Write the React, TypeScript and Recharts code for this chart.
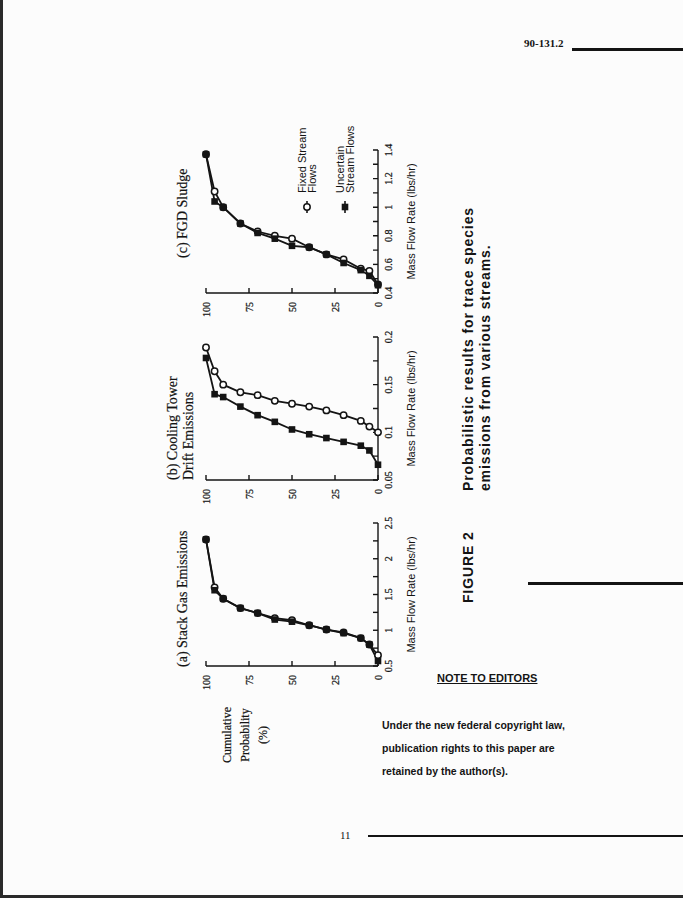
import React from 'react';
import { LineChart, Line, XAxis, YAxis, Legend } from 'recharts';

// ---------- data ----------
const probLevels = [100, 95, 90, 80, 70, 60, 50, 40, 30, 20, 10, 5, 0];

const stackFixed = [2.27, 1.6, 1.44, 1.31, 1.24, 1.17, 1.14, 1.07, 1.01, 0.97, 0.89, 0.8, 0.65];
const stackUncertain = [2.27, 1.56, 1.44, 1.31, 1.24, 1.15, 1.12, 1.07, 1.01, 0.96, 0.89, 0.8, 0.57];

const coolingFixed = [0.189, 0.164, 0.15, 0.142, 0.139, 0.133, 0.13, 0.127, 0.123, 0.118, 0.112, 0.106, 0.1];
const coolingUncertain = [0.178, 0.14, 0.137, 0.127, 0.118, 0.111, 0.103, 0.098, 0.094, 0.09, 0.086, 0.081, 0.066];

const sludgeFixed = [1.37, 1.11, 1.0, 0.886, 0.83, 0.8, 0.78, 0.72, 0.67, 0.635, 0.57, 0.555, 0.46];
const sludgeUncertain = [1.37, 1.04, 1.0, 0.886, 0.82, 0.78, 0.73, 0.72, 0.67, 0.61, 0.56, 0.52, 0.455];

const stackTicks = [0.5, 0.75, 1, 1.25, 1.5, 1.75, 2, 2.25, 2.5];
const stackMajor = [0.5, 1, 1.5, 2, 2.5];
const coolingTicks = [0.05, 0.075, 0.1, 0.125, 0.15, 0.175, 0.2];
const coolingMajor = [0.05, 0.1, 0.15, 0.2];
const sludgeTicks = [0.4, 0.5, 0.6, 0.7, 0.8, 0.9, 1, 1.1, 1.2, 1.3, 1.4];
const sludgeMajor = [0.4, 0.6, 0.8, 1, 1.2, 1.4];
const probTicks = [0, 25, 50, 75, 100];

const seriesNames = ['Fixed Stream Flows', 'Uncertain Stream Flows'];
const legendLines = [['Fixed Stream', 'Flows'], ['Uncertain', 'Stream Flows']];
const panelTitles = [['(a) Stack Gas Emissions'], ['(b) Cooling Tower', 'Drift Emissions'], ['(c) FGD Sludge']];
const xAxisTitle = 'Mass Flow Rate (lbs/hr)';
const yAxisTitle = ['Cumulative', 'Probability', '(%)'];
const captionLabel = 'FIGURE 2';
const captionLines = ['Probabilistic results for trace species', 'emissions from various streams.'];
const noteTitle = 'NOTE TO EDITORS';
const noteLines = ['Under the new federal copyright law,', 'publication rights to this paper are', 'retained by the author(s).'];
const headerText = '90-131.2';
const pageNumber = '11';

// ---------- layout (unrotated figure frame) ----------
const INK = '#141414';
const PANEL_U = [232, 418, 605];
const TITLE_SHIFT = [-1, 0, 35];
const CHART_TOP = 196;
const CW = 253;
const CH = 227;
const MARGIN = { top: 10, right: 60, bottom: 5, left: 20 };

const rows = (vals: number[]) => vals.map((m, i) => ({ mass: m, prob: probLevels[i] }));

const SquareDot = (p: any) => {
  if (p.cx == null || p.cy == null) return <g key={`e-${p.index}`} />;
  return <rect key={`sq-${p.index}`} x={p.cx - 3.3} y={p.cy - 3.3} width={6.6} height={6.6} fill={INK} />;
};

const LegendContent = (props: any) => {
  const payload = props.payload || [];
  return (
    <div style={{ width: 130 }}>
      {payload.map((entry: any, i: number) => (
        <div key={i} style={{ display: 'flex', alignItems: 'center', height: 38 }}>
          <svg width={16} height={14} style={{ flex: 'none' }}>
            <line x1={2} y1={7} x2={14} y2={7} stroke={INK} strokeWidth={1.6} />
            {i === 0 ? (
              <circle cx={8} cy={7} r={3.2} fill="#fff" stroke={INK} strokeWidth={1.5} />
            ) : (
              <rect x={4.7} y={3.7} width={6.6} height={6.6} fill={INK} />
            )}
          </svg>
          <div style={{ marginLeft: 6, fontFamily: 'Liberation Sans', fontSize: 11, lineHeight: '10px', color: INK }}>
            {legendLines[i].map((l, k) => (
              <div key={k}>{l}</div>
            ))}
          </div>
        </div>
      ))}
    </div>
  );
};

const tickStyle = { fill: INK, fontSize: 10, fontFamily: 'Liberation Serif', stroke: INK, strokeWidth: 0.25 };

function Panel(props: {
  u0: number;
  fixed: number[];
  uncertain: number[];
  ticks: number[];
  major: number[];
  legend?: boolean;
}) {
  const { u0, fixed, uncertain, ticks, major, legend } = props;
  const fmt = (v: number) => (major.some((m) => Math.abs(m - v) < 1e-9) ? String(v) : '');
  return (
    <div style={{ position: 'absolute', left: u0 - MARGIN.left - 30, top: CHART_TOP }}>
      <LineChart width={CW} height={CH} margin={MARGIN}>
        <XAxis
          type="number"
          dataKey="mass"
          domain={[ticks[0], ticks[ticks.length - 1]]}
          ticks={ticks}
          interval={0}
          tickFormatter={fmt}
          tickSize={-5}
          tickMargin={12}
          height={40}
          stroke={INK}
          strokeWidth={1.4}
          tick={tickStyle}
          label={{ value: xAxisTitle, position: 'insideBottom', offset: 3, fill: INK, fontSize: 11, fontFamily: 'Liberation Sans' }}
        />
        <YAxis
          type="number"
          dataKey="prob"
          domain={[0, 100]}
          ticks={probTicks}
          interval={0}
          width={30}
          tickSize={-5}
          tickMargin={14}
          stroke={INK}
          strokeWidth={1.4}
          tick={tickStyle}
        />
        {legend && (
          <Legend
            layout="vertical"
            align="center"
            verticalAlign="middle"
            content={LegendContent}
            wrapperStyle={{ left: 128, top: 92, width: 130 }}
          />
        )}
        <Line
          data={rows(fixed)}
          dataKey="prob"
          name={seriesNames[0]}
          stroke={INK}
          strokeWidth={1.8}
          dot={{ r: 3.2, fill: '#fff', stroke: INK, strokeWidth: 1.5 }}
          isAnimationActive={false}
        />
        <Line
          data={rows(uncertain)}
          dataKey="prob"
          name={seriesNames[1]}
          stroke={INK}
          strokeWidth={1.8}
          dot={SquareDot}
          isAnimationActive={false}
        />
      </LineChart>
    </div>
  );
}

export default function App() {
  const serif = 'Liberation Serif';
  return (
    <div style={{ position: 'absolute', left: 0, top: 0, width: 683, height: 898, overflow: 'hidden', background: '#fcfcfc' }}>
      {/* scan edges */}
      <div style={{ position: 'absolute', left: 0, top: 0, width: 3, height: 898, background: '#2a2a2a' }} />
      <div style={{ position: 'absolute', left: 0, top: 895, width: 683, height: 3, background: '#2a2a2a' }} />

      {/* page header */}
      <div style={{ position: 'absolute', left: 524, top: 37, fontFamily: serif, fontWeight: 700, fontSize: 11, color: INK }}>{headerText}</div>
      <div style={{ position: 'absolute', left: 572, top: 48, width: 111, height: 3, background: INK }} />
      <div style={{ position: 'absolute', left: 528, top: 582, width: 155, height: 3, background: INK }} />

      {/* note to editors */}
      <div style={{ position: 'absolute', left: 437, top: 672, fontFamily: 'Liberation Sans', fontWeight: 700, fontSize: 11, color: INK, textDecoration: 'underline' }}>{noteTitle}</div>
      <div style={{ position: 'absolute', left: 382, top: 714, fontFamily: 'Liberation Sans', fontWeight: 700, fontSize: 10.5, lineHeight: '23px', color: INK }}>
        {noteLines.map((l, i) => (
          <div key={i}>{l}</div>
        ))}
      </div>

      {/* page footer */}
      <div style={{ position: 'absolute', left: 340, top: 829, fontFamily: serif, fontSize: 11, color: INK }}>{pageNumber}</div>
      <div style={{ position: 'absolute', left: 368, top: 835, width: 315, height: 2, background: INK }} />

      {/* rotated figure */}
      <div
        style={{
          position: 'absolute',
          left: 0,
          top: 0,
          width: 898,
          height: 683,
          transformOrigin: '0 0',
          transform: 'translate(0px, 898px) rotate(-90deg)',
        }}
      >
        {PANEL_U.map((u0, i) => (
          <div
            key={i}
            style={{
              position: 'absolute',
              left: u0 + TITLE_SHIFT[i],
              top: panelTitles[i].length > 1 ? 165 : 175,
              textAlign: 'left',
              fontFamily: serif,
              fontSize: 14,
              lineHeight: '16px',
              color: INK,
              whiteSpace: 'nowrap',
              WebkitTextStroke: '0.2px #141414',
            }}
          >
            {panelTitles[i].map((t, k) => (
              <div key={k}>{t}</div>
            ))}
          </div>
        ))}
        <div style={{ position: 'absolute', left: 118, width: 90, top: 218, textAlign: 'center', fontFamily: serif, fontSize: 12, lineHeight: '18px', color: INK, WebkitTextStroke: '0.2px #141414' }}>
          {yAxisTitle.map((t, k) => (
            <div key={k}>{t}</div>
          ))}
        </div>

        <Panel u0={PANEL_U[0]} fixed={stackFixed} uncertain={stackUncertain} ticks={stackTicks} major={stackMajor} />
        <Panel u0={PANEL_U[1]} fixed={coolingFixed} uncertain={coolingUncertain} ticks={coolingTicks} major={coolingMajor} />
        <Panel u0={PANEL_U[2]} fixed={sludgeFixed} uncertain={sludgeUncertain} ticks={sludgeTicks} major={sludgeMajor} legend />

        <div
          style={{
            position: 'absolute',
            right: 207,
            top: 460,
            display: 'flex',
            fontFamily: 'Liberation Sans',
            fontWeight: 700,
            fontSize: 14,
            letterSpacing: 0.9,
            lineHeight: '17px',
            color: INK,
            whiteSpace: 'nowrap',
          }}
        >
          <div style={{ width: 112 }}>{captionLabel}</div>
          <div>
            <div>{captionLines[0]}</div>
            <div>{captionLines[1]}</div>
          </div>
        </div>
      </div>
    </div>
  );
}
